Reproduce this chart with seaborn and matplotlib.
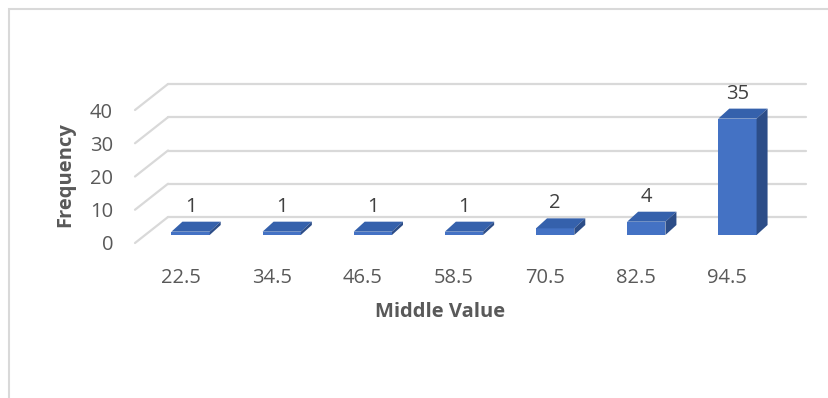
import numpy as np
import pandas as pd
import matplotlib
matplotlib.use("Agg")
import matplotlib.pyplot as plt
from matplotlib.patches import Polygon, Rectangle
from matplotlib.lines import Line2D
import seaborn as sns

# Data
middle_values = ["22.5", "34.5", "46.5", "58.5", "70.5", "82.5", "94.5"]
frequency = [1, 1, 1, 1, 2, 4, 35]
y_ticks = [0, 10, 20, 30, 40]

sns.set_style("white")
plt.rcParams["font.family"] = ["Open Sans", "DejaVu Sans"]

FRONT = "#4472C4"
TOP = "#3561AC"
SIDE = "#2C4D88"
GRID = "#D9D9D9"
TXT = "#595959"

W, H = 829, 398
fig = plt.figure(figsize=(W / 100, H / 100), dpi=100)

# plot area in pixels (bar plane)
left_px, right_px = 145, 783
px_per_x = (right_px - left_px) / 7.0
px_per_y = 3.325

# pseudo-3D offsets (data units): bar depth, back wall, front edge
DX, DY = 11 / px_per_x, 10 / px_per_y
BX, BY = 23 / px_per_x, 18 / px_per_y
FX, FY = -10 / px_per_x, -8 / px_per_y

ymin, ymax = FY, 40 + BY
bottom_px = H - (235 + 8)
height_px = (ymax - ymin) * px_per_y
ax = fig.add_axes([left_px / W, bottom_px / H, (right_px - left_px) / W, height_px / H])

df = pd.DataFrame({"Middle Value": middle_values, "Frequency": frequency})
sns.barplot(data=df, x="Middle Value", y="Frequency", color=FRONT, saturation=1,
            width=0.42, ax=ax, zorder=3, edgecolor="none")

ax.set_xlim(-0.5, 6.5)
ax.set_ylim(ymin, ymax)

# back wall gridlines and side wall diagonals
for v in y_ticks:
    ax.add_line(Line2D([-0.5 + BX, 6.5 + BX], [v + BY, v + BY], color=GRID,
                       lw=1.6, zorder=1, clip_on=False))
    ax.add_line(Line2D([-0.5 + FX, -0.5 + BX], [v + FY, v + BY], color=GRID,
                       lw=1.6, zorder=1, clip_on=False))

# top and side faces for each bar, plus value labels
for patch, val in zip(ax.patches, frequency):
    x0 = patch.get_x()
    x1 = x0 + patch.get_width()
    h = patch.get_height()
    top = Polygon([(x0, h), (x1, h), (x1 + DX, h + DY), (x0 + DX, h + DY)],
                  closed=True, facecolor=TOP, edgecolor="none", zorder=3, clip_on=False)
    side = Polygon([(x1, 0), (x1, h), (x1 + DX, h + DY), (x1 + DX, DY)],
                   closed=True, facecolor=SIDE, edgecolor="none", zorder=3, clip_on=False)
    ax.add_patch(top)
    ax.add_patch(side)
    xc = x0 + patch.get_width() / 2
    ax.text(xc, h + DY + 15 / px_per_y, f"{val}", ha="center", va="center",
            fontsize=14.5, color="#404040", zorder=4)

# ticks placed on the front edge of the floor / side wall
ax.set_xticks(np.arange(len(middle_values)) + FX)
ax.set_xticklabels(middle_values)
ax.set_yticks([v + FY for v in y_ticks])
ax.set_yticklabels([str(v) for v in y_ticks])
ax.tick_params(axis="x", length=0, pad=18, labelsize=14.5, labelcolor=TXT)
ax.tick_params(axis="y", length=0, pad=23, labelsize=14.5, labelcolor=TXT)
for s in ax.spines.values():
    s.set_visible(False)

ax.set_xlabel("Middle Value", fontsize=14.5, fontweight="bold", color=TXT)
ax.set_ylabel("Frequency", fontsize=14.5, fontweight="bold", color=TXT)
ax.xaxis.set_label_coords((440 - left_px) / (right_px - left_px), (H - 312 - bottom_px) / height_px)
ax.xaxis.label.set_va("center")
ax.yaxis.set_label_coords((65 - left_px) / (right_px - left_px), (H - 175 - bottom_px) / height_px)
ax.yaxis.label.set_va("center")

# chart frame
fig.add_artist(Rectangle((9.5 / W, -0.2), 1.2, 1.2 - 8.5 / H, transform=fig.transFigure,
                         facecolor="none", edgecolor=GRID, lw=1.5))

fig.savefig("out.png", dpi=100)
